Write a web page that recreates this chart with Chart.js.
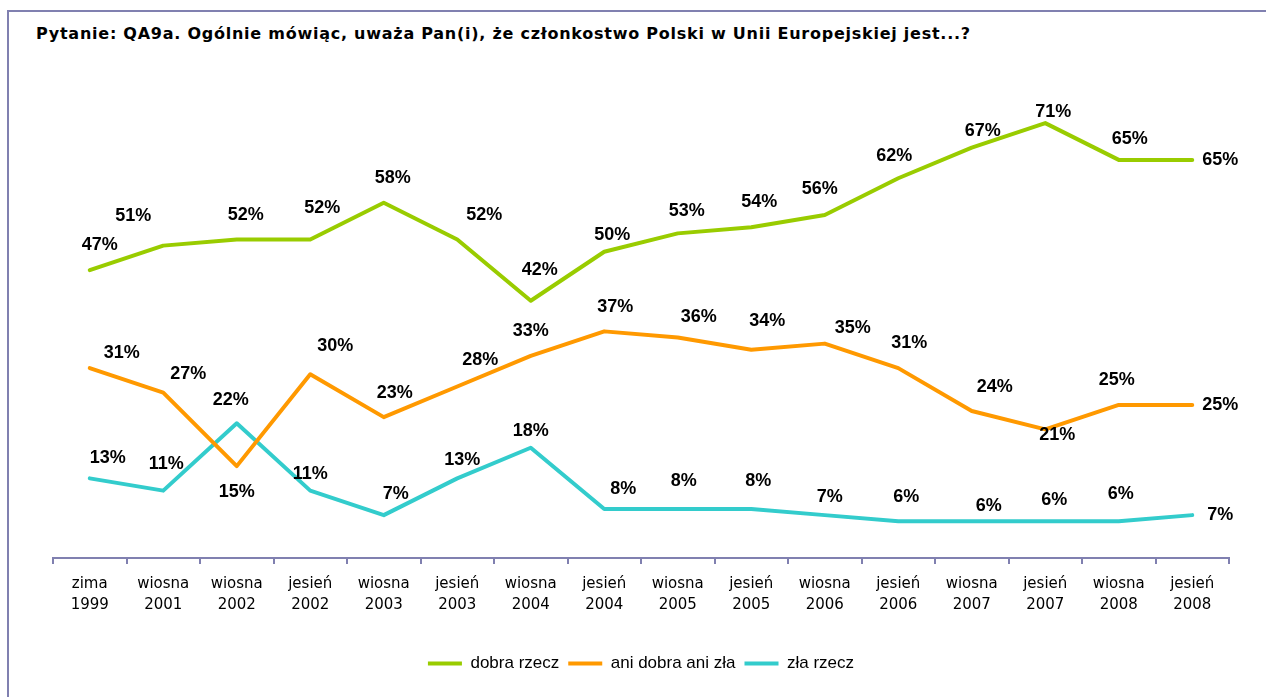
<!DOCTYPE html>
<html>
<head>
<meta charset="utf-8">
<script src="https://cdn.jsdelivr.net/npm/chart.js@4.4.1/dist/chart.umd.min.js"></script>
<style>
  html, body { margin: 0; padding: 0; background: #fff; overflow: hidden; }
  #frame {
    position: absolute; left: 7px; top: 10px; width: 1300px; height: 720px;
    border: 2px solid #8080b0;
  }
  #title {
    position: absolute; left: 36px; top: 24px;
    font: bold 16px "DejaVu Sans", Verdana, sans-serif; color: #000;
    letter-spacing: 0.75px;
    white-space: nowrap;
  }
  #wrap { position: absolute; left: 0; top: 0; width: 1266px; height: 697px; }
</style>
</head>
<body>
<div id="frame"></div>
<div id="title">Pytanie: QA9a. Ogólnie mówiąc, uważa Pan(i), że członkostwo Polski w Unii Europejskiej jest...?</div>
<div id="wrap"><canvas id="chart"></canvas></div>
<script>
// categories (two-line labels)
const periods = [
  ['zima', '1999'], ['wiosna', '2001'], ['wiosna', '2002'], ['jesień', '2002'],
  ['wiosna', '2003'], ['jesień', '2003'], ['wiosna', '2004'], ['jesień', '2004'],
  ['wiosna', '2005'], ['jesień', '2005'], ['wiosna', '2006'], ['jesień', '2006'],
  ['wiosna', '2007'], ['jesień', '2007'], ['wiosna', '2008'], ['jesień', '2008']
];

// series values (%)
const dobraRzecz = [47, 51, 52, 52, 58, 52, 42, 50, 53, 54, 56, 62, 67, 71, 65, 65];
const aniDobraAniZla = [31, 27, 15, 30, 23, 28, 33, 37, 36, 34, 35, 31, 24, 21, 25, 25];
const zlaRzecz = [13, 11, 22, 11, 7, 13, 18, 8, 8, 8, 7, 6, 6, 6, 6, 7];

// label placement relative to each point (dx, dy in px)
const greenOffsets = [[10,-25],[-30,-30],[9,-24],[12,-31],[9,-25],[27,-24],[9,-31],[8,-17],
  [9,-22],[8,-25],[-5,-26],[-4,-22],[11,-17],[8,-11],[11,-21],[28,0]];
const orangeOffsets = [[32,-15],[25,-19],[0,26],[25,-28],[11,-24],[23,-26],[0,-25],[11,-24],
  [21,-20],[16,-29],[28,-16],[11,-25],[23,-24],[12,6],[-2,-25],[28,0]];
const cyanOffsets = [[18,-20],[3,-27],[-6,-23],[0,-17],[12,-21],[5,-18],[0,-17],[19,-20],
  [6,-28],[7,-28],[5,-18],[8,-24],[17,-15],[9,-21],[2,-27],[28,0]];

const pointLabels = {
  id: 'pointLabels',
  afterDatasetsDraw(chart) {
    const ctx = chart.ctx;
    ctx.save();
    ctx.font = 'bold 18px "Liberation Sans", Arial, sans-serif';
    ctx.fillStyle = '#000';
    ctx.textAlign = 'center';
    ctx.textBaseline = 'middle';
    chart.data.datasets.forEach((ds, i) => {
      const meta = chart.getDatasetMeta(i);
      meta.data.forEach((pt, j) => {
        const off = ds.labelOffsets[j];
        ctx.fillText(ds.data[j] + '%', pt.x + off[0], pt.y + off[1]);
      });
    });
    ctx.restore();
  }
};

const lineStyle = (color) => ({
  borderColor: color,
  backgroundColor: color,
  borderWidth: 4,
  pointRadius: 0,
  pointHoverRadius: 0,
  tension: 0,
  borderJoinStyle: 'round',
  borderCapStyle: 'round',
  clip: false
});

new Chart(document.getElementById('chart'), {
  type: 'line',
  data: {
    labels: periods,
    datasets: [
      { label: 'dobra rzecz', data: dobraRzecz, labelOffsets: greenOffsets, ...lineStyle('#99cc00') },
      { label: 'ani dobra ani zła', data: aniDobraAniZla, labelOffsets: orangeOffsets, ...lineStyle('#ff9900') },
      { label: 'zła rzecz', data: zlaRzecz, labelOffsets: cyanOffsets, ...lineStyle('#33cccc') }
    ]
  },
  options: {
    responsive: true,
    maintainAspectRatio: false,
    animation: false,
    layout: { padding: { top: 68, left: 53, right: 37, bottom: 15 } },
    scales: {
      x: {
        offset: true,
        grid: {
          offset: true,
          drawOnChartArea: false,
          drawTicks: true,
          tickLength: 6,
          color: '#8080b0',
          lineWidth: 2
        },
        border: { color: '#8080b0', width: 2 },
        ticks: {
          color: '#000',
          padding: 10,
          maxRotation: 0,
          autoSkip: false,
          font: { family: '"DejaVu Sans", Verdana, sans-serif', size: 15, lineHeight: 1.4 }
        },
        afterFit: (scale) => { scale.height = 88; }
      },
      y: {
        display: false,
        min: 0,
        max: 80
      }
    },
    plugins: {
      legend: {
        position: 'bottom',
        labels: {
          boxWidth: 34,
          boxHeight: 4,
          padding: 9,
          color: '#000',
          font: { family: '"Liberation Sans", Arial, sans-serif', size: 17 },
          generateLabels: (chart) =>
            Chart.defaults.plugins.legend.labels.generateLabels(chart).map(l => ({ ...l, lineWidth: 0 }))
        }
      },
      tooltip: { enabled: false }
    }
  },
  plugins: [pointLabels]
});
</script>
</body>
</html>
